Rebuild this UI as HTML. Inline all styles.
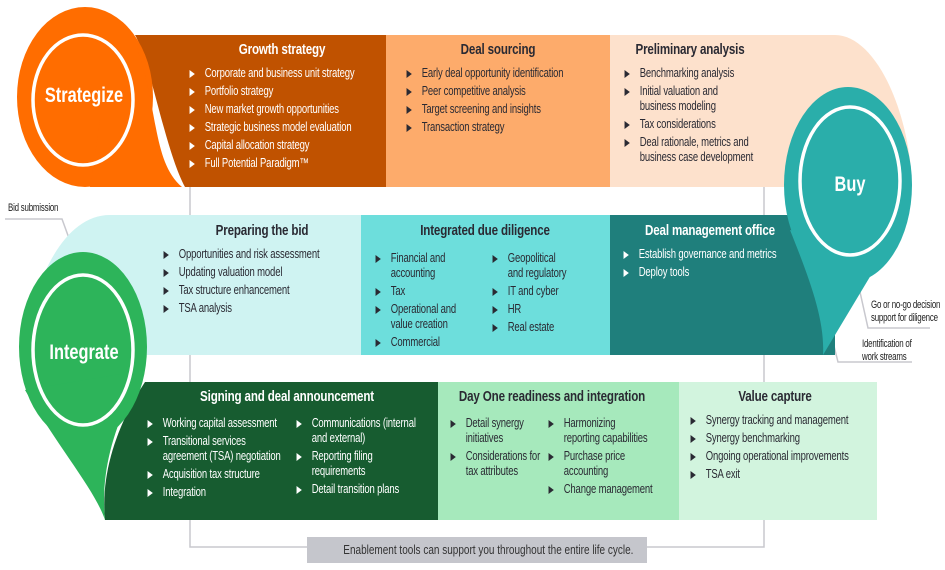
<!DOCTYPE html>
<html><head><meta charset="utf-8"><style>
*{margin:0;padding:0;box-sizing:border-box}
body{width:945px;height:570px;background:#fff;position:relative;overflow:hidden;font-family:"Liberation Sans",Arial,sans-serif}
svg{position:absolute;left:0;top:0}
.h{position:absolute;font-weight:bold;font-size:14.5px;white-space:nowrap;transform:translateX(-50%) scaleX(.8);letter-spacing:-.2px}
.L{position:absolute;font-size:12.5px;line-height:15px;transform:scaleX(.76);transform-origin:0 0;white-space:nowrap;letter-spacing:-.2px}
.L div{position:relative;padding-left:22px;margin-bottom:3px}
.L div:before{content:"";position:absolute;left:2px;top:4px;border-left:7px solid currentColor;border-top:4px solid transparent;border-bottom:4px solid transparent}
.w{color:#fff}.d{color:#2a2a33}
.c{position:absolute;color:#fff;font-weight:bold;font-size:21px;transform:translate(-50%,-50%) scaleX(.78);white-space:nowrap}
.s{position:absolute;font-size:11px;line-height:13px;color:#222;transform:scaleX(.72);transform-origin:0 0;white-space:nowrap;letter-spacing:-.3px}
</style></head><body>
<svg width="945" height="570" viewBox="0 0 945 570">
<g stroke="#c8c8ce" stroke-width="1.5" fill="none">
<path d="M190,187V215M190,355V382M190,520V547H307M647,547H764V520M764,187V215M764,355V382"/>
<path d="M5,219H62L74,252"/>
<path d="M860,292L868,328H930"/>
<path d="M830,330L838,362H912"/>
</g>
<path d="M610,35H835C875,35 910,110 912,187H610Z" fill="#fde1cc"/>
<rect x="386" y="35" width="224" height="152" fill="#fdab6b"/>
<path d="M135,35H386V187H185C165,150 150,60 135,35Z" fill="#c05200"/>
<ellipse cx="85" cy="97" rx="68" ry="90" fill="#ff6d00"/>
<path d="M130,30C160,100 150,160 182,187H90L100,120Z" fill="#ff6d00"/>
<ellipse cx="83" cy="100" rx="50" ry="65" fill="none" stroke="#fff" stroke-width="3.5"/>
<path d="M361,215H110C60,215 30,290 25,355H361Z" fill="#cff3f2"/>
<rect x="361" y="215" width="249" height="140" fill="#6ddedc"/>
<rect x="610" y="215" width="225" height="140" fill="#1f7f7c"/>
<ellipse cx="848" cy="185" rx="64" ry="98" fill="#2aaeaa"/>
<path d="M790,230C810,280 825,320 823,355L880,260Z" fill="#2aaeaa"/>
<ellipse cx="850" cy="181" rx="50" ry="74" fill="none" stroke="#fff" stroke-width="3.5"/>
<rect x="679" y="382" width="198" height="138" fill="#d2f4de"/>
<rect x="438" y="382" width="241" height="138" fill="#a6e9bc"/>
<path d="M145,382H438V520H105C100,470 120,420 145,382Z" fill="#175c30"/>
<ellipse cx="83" cy="347" rx="64" ry="95" fill="#2db45a"/>
<path d="M25,390C60,450 95,490 105,520C100,470 115,420 145,370Z" fill="#2db45a"/>
<ellipse cx="83" cy="350" rx="50" ry="75" fill="none" stroke="#fff" stroke-width="3.5"/>
<rect x="307" y="537" width="340" height="26" fill="#c5c6cc"/>
</svg>

<div class="c" style="left:84px;top:96px">Strategize</div>
<div class="c" style="left:850px;top:185px">Buy</div>
<div class="c" style="left:84px;top:353px">Integrate</div>

<div class="h w" style="left:282px;top:42px">Growth strategy</div>
<div class="L w" style="left:188px;top:66px"><div>Corporate and business unit strategy</div><div>Portfolio strategy</div><div>New market growth opportunities</div><div>Strategic business model evaluation</div><div>Capital allocation strategy</div><div>Full Potential Paradigm™</div></div>

<div class="h d" style="left:498px;top:42px">Deal sourcing</div>
<div class="L d" style="left:405px;top:66px"><div>Early deal opportunity identification</div><div>Peer competitive analysis</div><div>Target screening and insights</div><div>Transaction strategy</div></div>

<div class="h d" style="left:690px;top:42px">Preliminary analysis</div>
<div class="L d" style="left:623px;top:66px"><div>Benchmarking analysis</div><div>Initial valuation and<br>business modeling</div><div>Tax considerations</div><div>Deal rationale, metrics and<br>business case development</div></div>

<div class="h d" style="left:262px;top:223px">Preparing the bid</div>
<div class="L d" style="left:162px;top:247px"><div>Opportunities and risk assessment</div><div>Updating valuation model</div><div>Tax structure enhancement</div><div>TSA analysis</div></div>

<div class="h d" style="left:485px;top:223px">Integrated due diligence</div>
<div class="L d" style="left:374px;top:251px"><div>Financial and<br>accounting</div><div>Tax</div><div>Operational and<br>value creation</div><div>Commercial</div></div>
<div class="L d" style="left:491px;top:251px"><div>Geopolitical<br>and regulatory</div><div>IT and cyber</div><div>HR</div><div>Real estate</div></div>

<div class="h w" style="left:710px;top:223px">Deal management office</div>
<div class="L w" style="left:622px;top:247px"><div>Establish governance and metrics</div><div>Deploy tools</div></div>

<div class="h w" style="left:287px;top:389px">Signing and deal announcement</div>
<div class="L w" style="left:146px;top:416px"><div>Working capital assessment</div><div>Transitional services<br>agreement (TSA) negotiation</div><div>Acquisition tax structure</div><div style="margin-top:3px">Integration</div></div>
<div class="L w" style="left:295px;top:416px"><div>Communications (internal<br>and external)</div><div>Reporting filing<br>requirements</div><div>Detail transition plans</div></div>

<div class="h d" style="left:552px;top:389px">Day One readiness and integration</div>
<div class="L d" style="left:449px;top:416px"><div>Detail synergy<br>initiatives</div><div>Considerations for<br>tax attributes</div></div>
<div class="L d" style="left:547px;top:416px"><div>Harmonizing<br>reporting capabilities</div><div>Purchase price<br>accounting</div><div>Change management</div></div>

<div class="h d" style="left:775px;top:389px">Value capture</div>
<div class="L d" style="left:689px;top:413px"><div>Synergy tracking and management</div><div>Synergy benchmarking</div><div>Ongoing operational improvements</div><div>TSA exit</div></div>

<div style="position:absolute;left:307px;top:537px;width:340px;height:26px;line-height:26px;text-align:center;font-size:12.5px;color:#333;white-space:nowrap"><span style="display:inline-block;transform:scaleX(.8);white-space:nowrap">Enablement tools can support you throughout the entire life cycle.</span></div>

<div class="s" style="left:8px;top:202px">Bid submission</div>
<div class="s" style="left:871px;top:299px">Go or no-go decision<br>support for diligence</div>
<div class="s" style="left:862px;top:338px">Identification of<br>work streams</div>
</body></html>
